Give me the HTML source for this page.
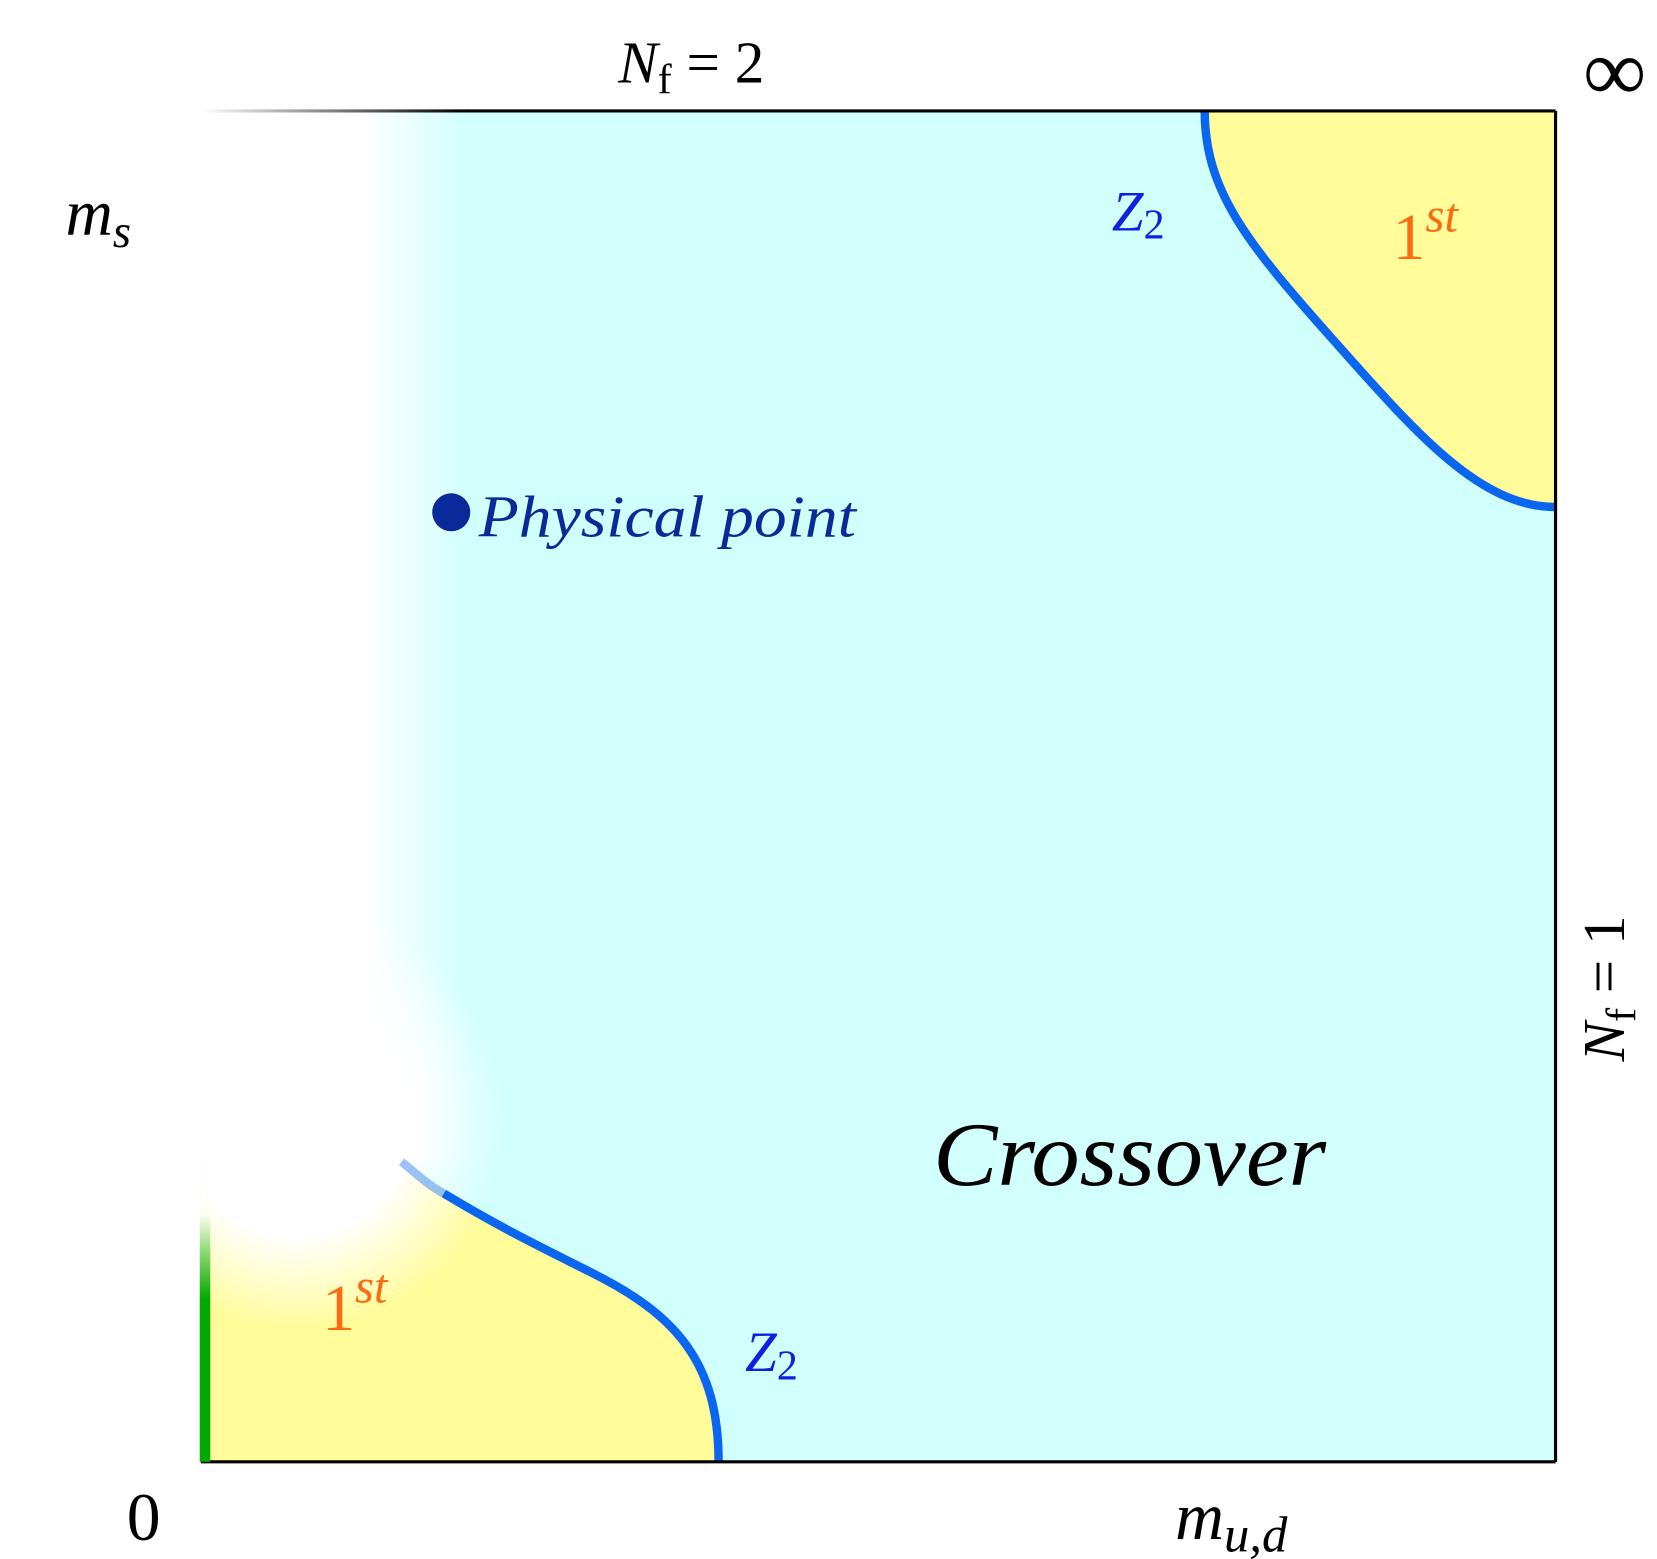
<!DOCTYPE html>
<html><head><meta charset="utf-8"><style>
html,body{margin:0;padding:0;background:#fff;}
svg{display:block;}
text{font-family:"Liberation Serif",serif;}
</style></head><body>
<svg width="1657" height="1559" viewBox="0 0 1568 1476" preserveAspectRatio="none" xmlns="http://www.w3.org/2000/svg">
<defs>
<linearGradient id="hfade" x1="190" y1="0" x2="445" y2="0" gradientUnits="userSpaceOnUse">
<stop offset="0" stop-color="#fff" stop-opacity="1"/>
<stop offset="0.6" stop-color="#fff" stop-opacity="1"/>
<stop offset="1" stop-color="#fff" stop-opacity="0"/>
</linearGradient>
<radialGradient id="blob" cx="280" cy="1060" r="200" gradientUnits="userSpaceOnUse">
<stop offset="0" stop-color="#fff" stop-opacity="1"/>
<stop offset="0.55" stop-color="#fff" stop-opacity="1"/>
<stop offset="1" stop-color="#fff" stop-opacity="0"/>
</radialGradient>
<linearGradient id="topline" x1="190" y1="0" x2="440" y2="0" gradientUnits="userSpaceOnUse">
<stop offset="0" stop-color="#000" stop-opacity="0"/>
<stop offset="1" stop-color="#000" stop-opacity="1"/>
</linearGradient>
<linearGradient id="green" x1="0" y1="1150" x2="0" y2="1230" gradientUnits="userSpaceOnUse">
<stop offset="0" stop-color="#00aa00" stop-opacity="0"/>
<stop offset="1" stop-color="#00aa00" stop-opacity="1"/>
</linearGradient>
</defs>
<rect x="190" y="105" width="1282" height="1279" fill="#d0fffc"/>
<path d="M380,1100 C420,1140 470,1160 560,1205 C640,1245 680,1290 680,1384 L190,1384 L190,1100 Z" fill="#fffc99"/>
<path d="M1140,105 C1140,180 1180,230 1260,320 C1340,410 1400,480 1472,480 L1472,105 Z" fill="#fffc99"/>
<rect x="190" y="100" width="270" height="1000" fill="url(#hfade)"/>
<rect x="190" y="860" width="290" height="400" fill="url(#blob)"/>
<path d="M420,1130 C470,1160 500,1175 560,1205 C640,1245 680,1290 680,1384" fill="none" stroke="#0a66f0" stroke-width="8"/>
<path d="M380,1100 C395,1112 405,1122 420,1130" fill="none" stroke="#0a66f0" stroke-opacity="0.4" stroke-width="8"/>
<path d="M1140,105 C1140,180 1180,230 1260,320 C1340,410 1400,480 1472,480" fill="none" stroke="#0a66f0" stroke-width="8"/>
<line x1="190" y1="105" x2="440" y2="105" stroke="url(#topline)" stroke-width="3"/>
<line x1="440" y1="105" x2="1472" y2="105" stroke="#000" stroke-width="3"/>
<line x1="1472" y1="105" x2="1472" y2="1384" stroke="#000" stroke-width="3"/>
<line x1="190" y1="1384" x2="1472" y2="1384" stroke="#000" stroke-width="3"/>
<rect x="189" y="1150" width="10" height="234" fill="url(#green)"/>
<text x="585" y="78" font-size="56" font-style="italic">N<tspan font-style="normal" font-size="40" dy="10">f</tspan><tspan font-style="normal" font-size="56" dy="-10"> = 2</tspan></text>
<text x="1498" y="95" font-size="84">∞</text>
<text x="62" y="222" font-size="62" font-style="italic">m<tspan font-size="44" dy="12">s</tspan></text>
<text x="120" y="1458" font-size="64">0</text>
<text x="1112" y="1457" font-size="64" font-style="italic">m<tspan font-size="48" dy="12">u,d</tspan></text>
<text transform="translate(1537,1005) rotate(-90)" font-size="56" font-style="italic">N<tspan font-style="normal" font-size="40" dy="10">f</tspan><tspan font-style="normal" font-size="56" dy="-10"> = 1</tspan></text>
<text x="1052" y="218" font-size="54" font-style="italic" fill="#1020e0">Z<tspan font-style="normal" font-size="40" dy="8">2</tspan></text>
<text x="705" y="1298" font-size="54" font-style="italic" fill="#1020e0">Z<tspan font-style="normal" font-size="40" dy="8">2</tspan></text>
<text x="1318" y="245" font-size="62" fill="#ff6a10">1<tspan font-style="italic" font-size="46" dy="-26">st</tspan></text>
<text x="305" y="1259" font-size="62" fill="#ff6a10">1<tspan font-style="italic" font-size="46" dy="-26">st</tspan></text>
<text x="883" y="1122" font-size="86" font-style="italic" textLength="372" lengthAdjust="spacingAndGlyphs">Crossover</text>
<circle cx="427" cy="485" r="18" fill="#0a2a9a"/>
<text x="453" y="508" font-size="56" font-style="italic" fill="#0a2a9a" textLength="357" lengthAdjust="spacingAndGlyphs">Physical point</text>
</svg>
</body></html>
